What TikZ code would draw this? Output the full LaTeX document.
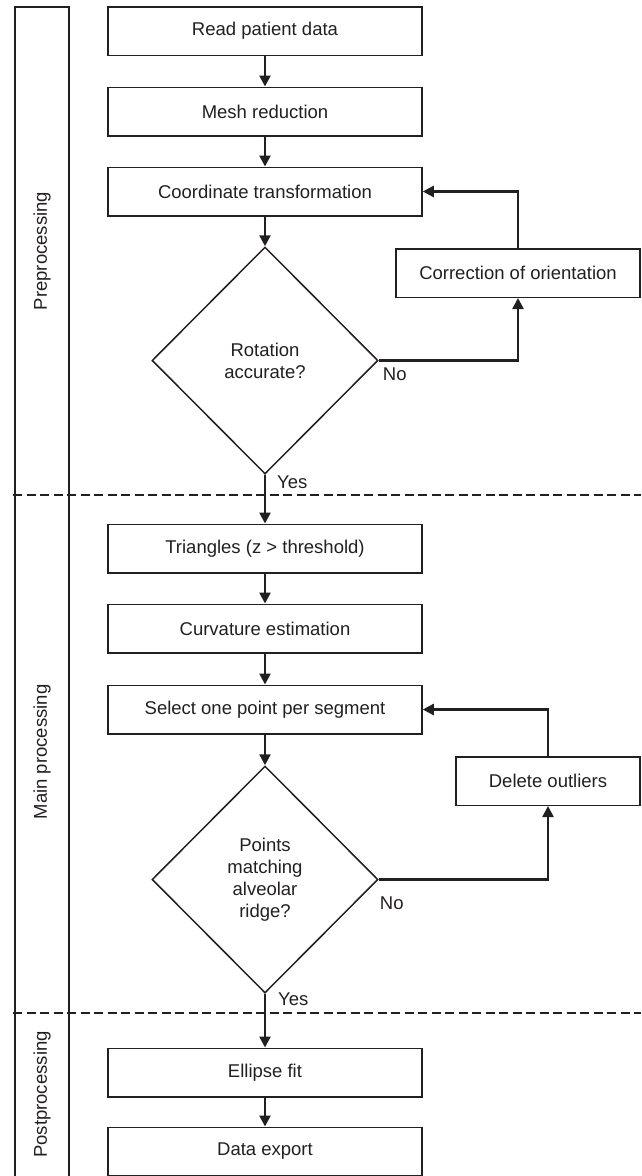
\documentclass[tikz,border=0pt]{standalone}
\usepackage{fontspec}
\setmainfont{Liberation Sans}
\usetikzlibrary{arrows.meta,shapes.geometric}
\definecolor{ink}{HTML}{231F20}
\begin{document}
\begin{tikzpicture}[x=1pt,y=-1pt,
  every node/.style={font=\fontsize{18.5}{22}\selectfont, text=ink},
  stepbox/.style={draw=ink, line width=1.5pt, minimum width=314pt, minimum height=48.5pt, inner sep=0pt},
  sidebox/.style={draw=ink, line width=1.5pt, minimum height=48.5pt, inner sep=0pt},
  decision/.style={draw=ink, line width=1.5pt, shape=diamond, minimum width=226pt, minimum height=227pt, inner sep=0pt, align=center},
  flow/.style={draw=ink, line width=2.4pt, -{Triangle[length=11pt,width=11pt]}},
  lbl/.style={inner sep=0pt, anchor=west},
  sepline/.style={draw=ink, line width=2.4pt, dash pattern=on 9pt off 4.5pt},
  phase/.style={rotate=90, inner sep=0pt}
]
\useasboundingbox (0,0) rectangle (641,1176);

% phase column
\draw[ink, line width=1.5pt] (15,1180) -- (15,7) -- (69,7) -- (69,1180);
\node[phase] (pre) at (42,251) {Preprocessing};
\node[phase] (mainp) at (42,752) {Main processing};
\node[phase] (post) at (42,1094.5) {Postprocessing};

% phase separators
\draw[sepline] (13,495) -- (641,495);
\draw[sepline] (13,1013) -- (641,1013);

% main column
\node[stepbox] (read) at (265,31) {Read patient data};
\node[stepbox] (mesh) at (265,111.5) {Mesh reduction};
\node[stepbox] (coord) at (265,191.5) {Coordinate transformation};
\node[decision] (rot) at (265,360.5) {Rotation\\accurate?};
\node[sidebox, minimum width=244pt] (corr) at (518,273) {Correction of orientation};

\node[stepbox] (tri) at (265,548.5) {Triangles (z > threshold)};
\node[stepbox] (curv) at (265,628.5) {Curvature estimation};
\node[stepbox] (sel) at (265,709.5) {Select one point per segment};
\node[decision] (pts) at (265,879.5) {Points\\matching\\alveolar\\ridge?};
\node[sidebox, minimum width=184pt] (del) at (548,781) {Delete outliers};

\node[stepbox] (ell) at (265,1072.5) {Ellipse fit};
\node[stepbox] (exp) at (265,1151.5) {Data export};

% connectors
\draw[flow] (read) -- (mesh);
\draw[flow] (mesh) -- (coord);
\draw[flow] (coord) -- (rot);
\draw[flow] (rot.east) -| (corr.south);
\draw[flow] (corr.north) |- (coord.east);
\draw[flow] (rot.south) -- (tri.north);
\draw[flow] (tri) -- (curv);
\draw[flow] (curv) -- (sel);
\draw[flow] (sel) -- (pts);
\draw[flow] (pts.east) -| (del.south);
\draw[flow] (del.north) |- (sel.east);
\draw[flow] (pts.south) -- (ell.north);
\draw[flow] (ell) -- (exp);

% branch labels
\node[lbl] (no1) at ([xshift=4pt,yshift=-14pt]rot.east) {No};
\node[lbl] (yes1) at ([xshift=12pt,yshift=-7pt]rot.south) {Yes};
\node[lbl] (no2) at ([xshift=1pt,yshift=-24pt]pts.east) {No};
\node[lbl] (yes2) at ([xshift=13pt,yshift=-5pt]pts.south) {Yes};
\end{tikzpicture}
\end{document}
